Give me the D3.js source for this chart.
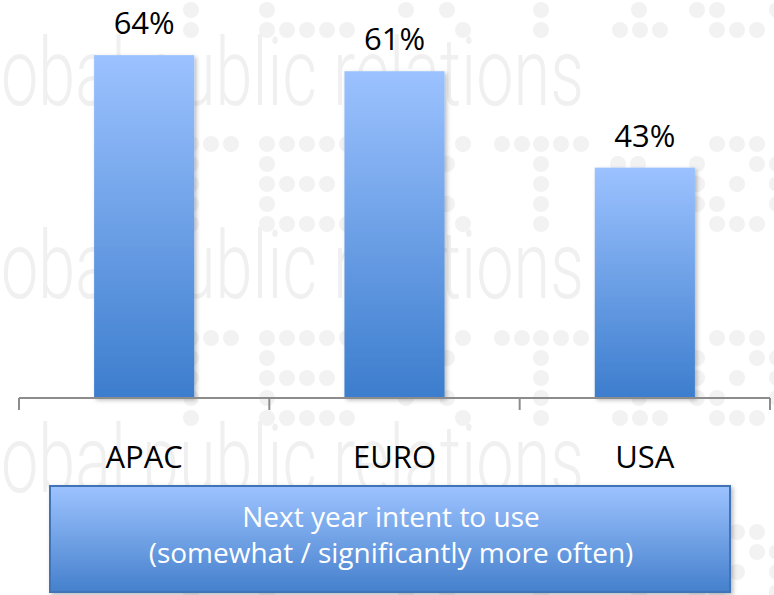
<!DOCTYPE html>
<html>
<head>
<meta charset="utf-8">
<script src="https://cdn.jsdelivr.net/npm/d3@7"></script>
<style>
  html, body { margin: 0; padding: 0; background: #fff; }
  svg { display: block; }
</style>
</head>
<body>
<div id="chart"></div>
<script>
// chart values
const regions = ["APAC", "EURO", "USA"];
const intentPct = [64, 61, 43];
const captionLines = ["Next year intent to use", "(somewhat / significantly more often)"];

// background watermark (decoration only)
const watermarkText = "obal public relations";
const watermarkBaselines = [105, 298, 492];
const dotBlockTops = [-50, 144, 338, 532];
const dotRows = [
  [191, 211, 231, 267, 287, 307, 327, 347, 463, 502, 522, 541, 561, 581, 717, 737, 757],
  [191, 267, 406, 447, 541, 618, 638, 697, 757, 777],
  [191, 267, 287, 307, 327, 541, 697, 737, 777],
  [191, 267, 406, 447, 541, 639, 697, 717, 777],
  [191, 267, 287, 307, 327, 347, 463, 541, 620, 640, 660, 717, 737, 757]
];

const width = 774, height = 595;
const axisY = 398;

const svg = d3.select("#chart")
  .append("svg")
  .attr("width", width)
  .attr("height", height)
  .attr("viewBox", [0, 0, width, height]);

const defs = svg.append("defs");

// gradient used by the bars and the caption box
function addGradient(id, top, bottom) {
  const g = defs.append("linearGradient")
    .attr("id", id)
    .attr("x1", 0).attr("y1", 0).attr("x2", 0).attr("y2", 1);
  g.append("stop").attr("offset", "0%").attr("stop-color", top);
  g.append("stop").attr("offset", "100%").attr("stop-color", bottom);
}
addGradient("barGrad", "#9cc2ff", "#3c7dcd");
addGradient("boxGrad", "#9dc3ff", "#4580cc");

const shadow = defs.append("filter")
  .attr("id", "shadow")
  .attr("x", "-10%").attr("y", "-10%")
  .attr("width", "130%").attr("height", "130%");
shadow.append("feDropShadow")
  .attr("dx", 2).attr("dy", 2)
  .attr("stdDeviation", 2)
  .attr("flood-color", "#000")
  .attr("flood-opacity", 0.28);

// --- watermark ---
const wm = svg.append("g").attr("class", "watermark");

dotBlockTops.forEach(top => {
  dotRows.forEach((row, i) => {
    wm.selectAll(null)
      .data(row)
      .join("circle")
        .attr("cx", d => d)
        .attr("cy", top + i * 20)
        .attr("r", 8)
        .attr("fill", "#f2f2f2");
  });
});

// squeeze the watermark text horizontally so it spans ~583px
wm.selectAll("text")
  .data(watermarkBaselines)
  .join("text")
    .attr("font-family", "Roboto, 'DejaVu Sans', sans-serif")
    .attr("font-weight", 300)
    .attr("font-size", 94)
    .attr("fill", "#f0f0f0")
    .text(watermarkText)
    .attr("transform", function(d) {
      const len = this.getComputedTextLength() || 1;
      return `translate(1,${d}) scale(${583 / len},1)`;
    });

// --- scales ---
const x = d3.scaleBand()
  .domain(regions)
  .range([19, 770])
  .paddingInner(0.6)
  .paddingOuter(0.3);

const y = d3.scaleLinear()
  .domain([0, 70])
  .range([axisY, 23]);

const data = regions.map((r, i) => ({ region: r, value: intentPct[i] }));

// --- bars ---
svg.append("g")
  .selectAll("rect")
  .data(data)
  .join("rect")
    .attr("x", d => x(d.region))
    .attr("y", d => y(d.value))
    .attr("width", x.bandwidth())
    .attr("height", d => y(0) - y(d.value))
    .attr("fill", "url(#barGrad)")
    .attr("filter", "url(#shadow)");

// value labels
svg.append("g")
  .selectAll("text")
  .data(data)
  .join("text")
    .attr("x", d => x(d.region) + x.bandwidth() / 2)
    .attr("y", d => y(d.value) - 21)
    .attr("text-anchor", "middle")
    .attr("font-family", "'Open Sans', sans-serif")
    .attr("font-size", 31)
    .attr("fill", "#000")
    .text(d => d.value + "%");

// --- category axis (ticks sit between the bands) ---
const axis = svg.append("g").attr("stroke", "#8c8c8c").attr("stroke-width", 2);
const [r0, r1] = x.range();
axis.append("line")
  .attr("x1", r0).attr("x2", r1)
  .attr("y1", axisY).attr("y2", axisY);
axis.selectAll("line.tick")
  .data(d3.range(regions.length + 1))
  .join("line")
    .attr("class", "tick")
    .attr("x1", i => r0 + i * x.step())
    .attr("x2", i => r0 + i * x.step())
    .attr("y1", axisY)
    .attr("y2", axisY + 12);

svg.append("g")
  .selectAll("text")
  .data(regions)
  .join("text")
    .attr("x", d => x(d) + x.bandwidth() / 2)
    .attr("y", 468)
    .attr("text-anchor", "middle")
    .attr("font-family", "'Open Sans', sans-serif")
    .attr("font-size", 31)
    .attr("fill", "#000")
    .text(d => d);

// --- caption box ---
const box = svg.append("g");
box.append("rect")
  .attr("x", 50).attr("y", 486)
  .attr("width", 680).attr("height", 106)
  .attr("fill", "url(#boxGrad)")
  .attr("stroke", "#3f73b8")
  .attr("stroke-width", 2)
  .attr("filter", "url(#shadow)");

box.selectAll("text")
  .data(captionLines)
  .join("text")
    .attr("x", 391)
    .attr("y", (d, i) => 527 + i * 36)
    .attr("text-anchor", "middle")
    .attr("font-family", "'Open Sans', sans-serif")
    .attr("font-size", 28)
    .attr("fill", "#fff")
    .text(d => d);
</script>
</body>
</html>
